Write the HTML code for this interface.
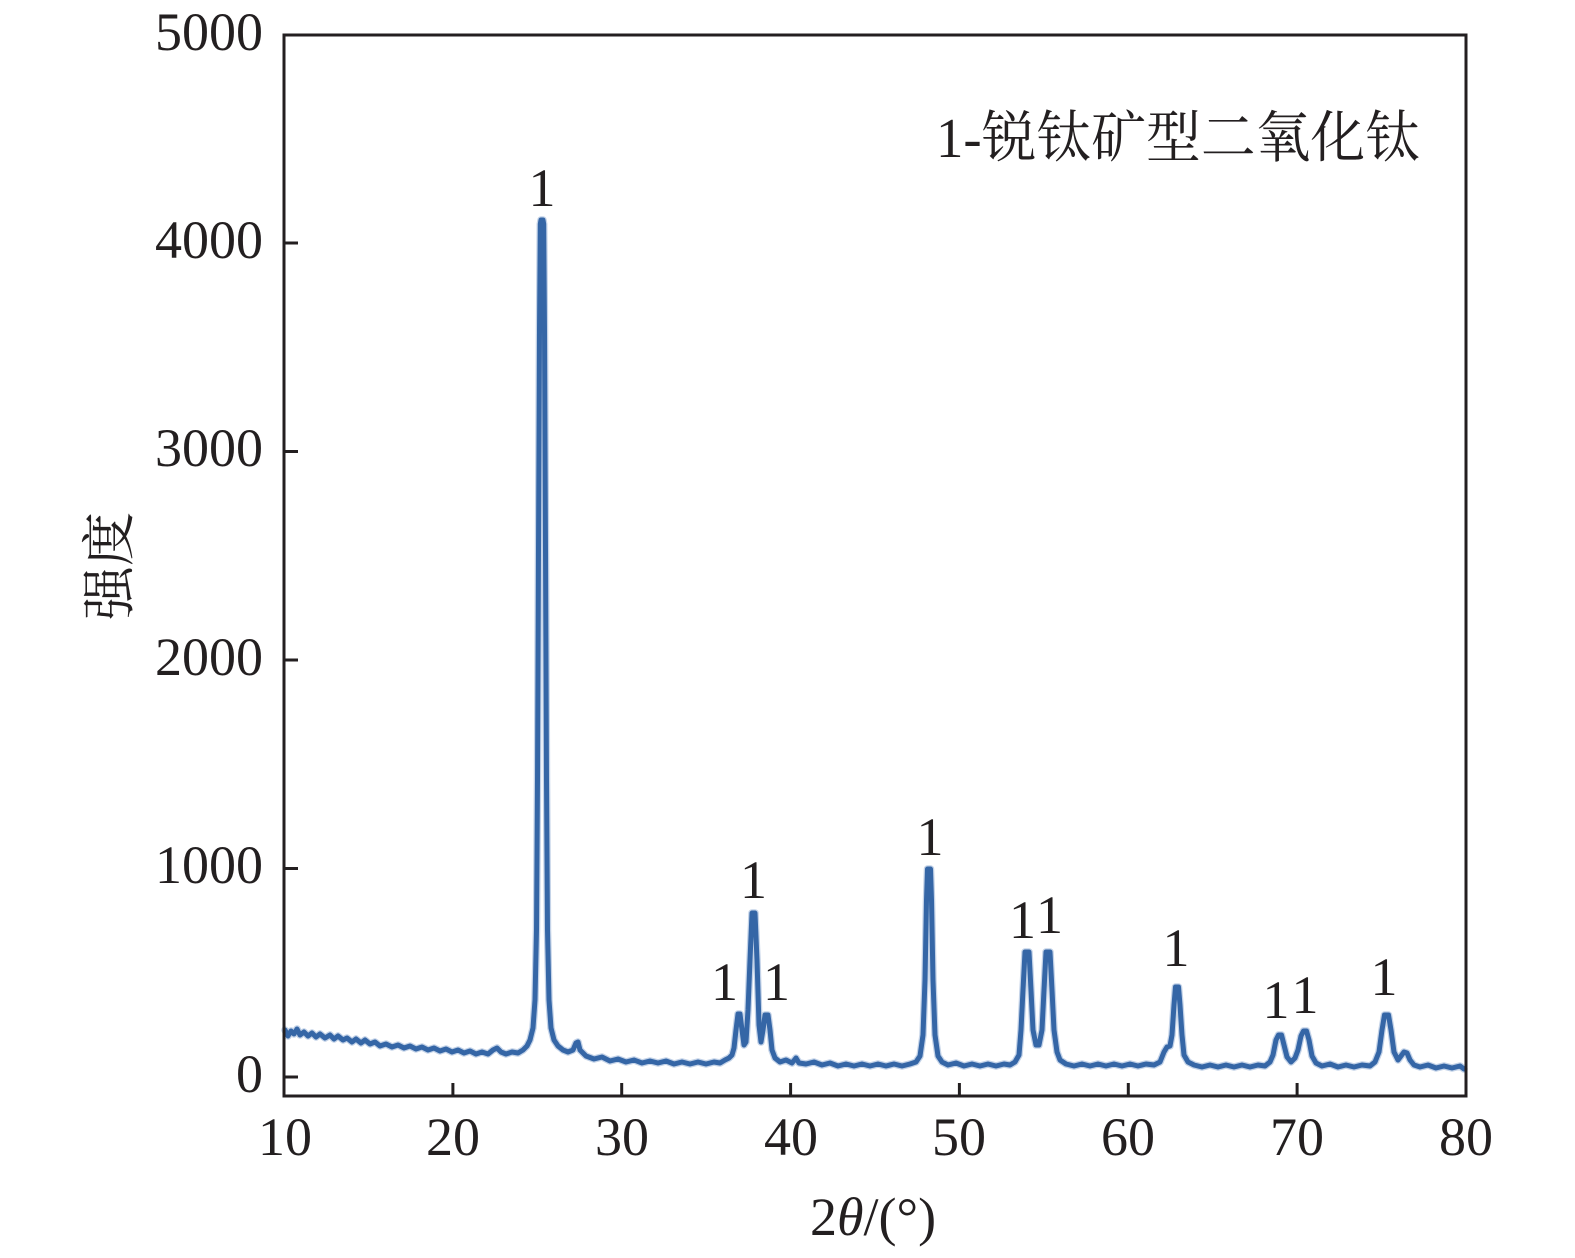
<!DOCTYPE html>
<html>
<head>
<meta charset="utf-8">
<style>
  html, body { margin: 0; padding: 0; background: #ffffff; }
  svg { display: block; }
  .t { font-family: "Liberation Serif", "Noto Serif CJK SC", serif; fill: #231f20; }
</style>
</head>
<body>
<svg width="1575" height="1258" viewBox="0 0 1575 1258" xmlns="http://www.w3.org/2000/svg">
  <rect x="0" y="0" width="1575" height="1258" fill="#ffffff"/>
  <defs>
    <path id="spec" d="M285,1030 L288,1036 L291,1031 L294,1034 L297,1029 L300,1035 L304,1032 L308,1036 L312,1033 L316,1037 L320,1034 L325,1038 L330,1035 L334,1039 L338,1036 L343,1040 L347,1038 L352,1042 L356,1039 L361,1043 L365,1040 L370,1044 L375,1042 L380,1046 L386,1044 L392,1047 L398,1045 L404,1048 L410,1046 L416,1049 L422,1047 L428,1050 L434,1048 L440,1051 L446,1049 L452,1052 L458,1050 L464,1053 L470,1051 L476,1054 L482,1052 L488,1054 L493,1050 L497,1048 L501,1052 L506,1054 L512,1052 L518,1053 L523,1050 L527,1046 L530,1040 L533,1028 L535,1000 L536.5,930 L537.5,780 L538.5,550 L539.5,330 L540.3,224 L541,220 L543,220 L543.7,224 L544.5,330 L545.5,550 L546.5,780 L547.5,930 L549,1000 L551,1028 L554,1040 L558,1046 L563,1050 L568,1052 L573,1050 L576,1043 L578,1042 L580,1050 L586,1056 L594,1059 L602,1057 L610,1061 L618,1059 L626,1062 L634,1060 L642,1063 L650,1061 L658,1063 L666,1061 L674,1064 L682,1062 L690,1064 L698,1062 L706,1064 L714,1062 L720,1063 L725,1060 L729,1058 L732,1055 L734,1048 L736,1030 L738,1014 L740,1014 L742,1030 L744,1045 L746,1042 L748,1010 L750,960 L752,913 L755,913 L757,960 L759,1025 L761,1042 L763,1030 L765,1015 L768,1015 L770,1030 L772,1050 L775,1058 L780,1062 L786,1060 L792,1063 L796,1058 L799,1063 L806,1064 L814,1062 L822,1065 L830,1063 L838,1066 L846,1064 L854,1066 L862,1064 L870,1066 L878,1064 L886,1066 L894,1064 L902,1066 L910,1064 L916,1062 L920,1056 L923,1035 L925,980 L926.5,900 L927.5,869 L930.5,869 L931.5,900 L933,980 L935,1035 L938,1056 L942,1062 L948,1065 L956,1063 L964,1066 L972,1064 L980,1066 L988,1064 L996,1066 L1004,1064 L1010,1065 L1015,1062 L1019,1055 L1021,1030 L1023,990 L1025,952 L1029,952 L1031,990 L1033,1030 L1036,1045 L1039,1045 L1042,1030 L1044,990 L1046,952 L1050,952 L1052,990 L1054,1030 L1057,1052 L1060,1060 L1066,1064 L1074,1066 L1082,1064 L1090,1066 L1098,1064 L1106,1066 L1114,1064 L1122,1066 L1130,1064 L1138,1066 L1146,1064 L1154,1065 L1160,1062 L1164,1052 L1167,1047 L1170,1046 L1172,1035 L1174,1005 L1175.5,987 L1178.5,987 L1180,1005 L1182,1035 L1184,1055 L1188,1062 L1194,1065 L1202,1067 L1210,1065 L1218,1067 L1226,1065 L1234,1067 L1242,1065 L1250,1067 L1258,1065 L1265,1066 L1270,1062 L1273,1055 L1276,1040 L1278.5,1035 L1281.5,1035 L1284,1045 L1287,1057 L1291,1062 L1295,1058 L1298,1050 L1301,1036 L1303.5,1031 L1306.5,1031 L1309,1040 L1312,1056 L1316,1063 L1322,1066 L1330,1064 L1338,1067 L1346,1065 L1354,1067 L1362,1065 L1370,1066 L1375,1062 L1379,1052 L1382,1030 L1384.5,1015 L1388.5,1015 L1391,1030 L1394,1052 L1398,1060 L1401,1056 L1404,1052 L1407,1053 L1410,1060 L1414,1065 L1420,1067 L1428,1065 L1436,1068 L1444,1066 L1452,1068 L1460,1066 L1464,1069"/>
  </defs>

  <!-- spectrum: soft halo + core -->
  <use href="#spec" fill="none" stroke="#9db6d8" stroke-width="7.5" stroke-linejoin="round" stroke-linecap="round" opacity="0.6"/>
  <use href="#spec" fill="none" stroke="#3566a6" stroke-width="5" stroke-linejoin="round" stroke-linecap="round"/>

  <!-- axes frame -->
  <rect x="284" y="35" width="1182" height="1061" fill="none" stroke="#231f20" stroke-width="3"/>

  <g stroke="#231f20" stroke-width="3">
    <line x1="284" y1="1077" x2="298" y2="1077"/>
    <line x1="284" y1="868.5" x2="298" y2="868.5"/>
    <line x1="284" y1="660" x2="298" y2="660"/>
    <line x1="284" y1="451.5" x2="298" y2="451.5"/>
    <line x1="284" y1="243" x2="298" y2="243"/>
    <line x1="452.9" y1="1096" x2="452.9" y2="1083"/>
    <line x1="621.7" y1="1096" x2="621.7" y2="1083"/>
    <line x1="790.6" y1="1096" x2="790.6" y2="1083"/>
    <line x1="959.4" y1="1096" x2="959.4" y2="1083"/>
    <line x1="1128.3" y1="1096" x2="1128.3" y2="1083"/>
    <line x1="1297.1" y1="1096" x2="1297.1" y2="1083"/>
  </g>

  <g class="t" font-size="54" text-anchor="end">
    <text x="263" y="1092">0</text>
    <text x="263" y="883">1000</text>
    <text x="263" y="675">2000</text>
    <text x="263" y="466">3000</text>
    <text x="263" y="258">4000</text>
    <text x="263" y="50">5000</text>
  </g>

  <g class="t" font-size="54" text-anchor="middle">
    <text x="285" y="1155">10</text>
    <text x="453" y="1155">20</text>
    <text x="622" y="1155">30</text>
    <text x="791" y="1155">40</text>
    <text x="959" y="1155">50</text>
    <text x="1128" y="1155">60</text>
    <text x="1297" y="1155">70</text>
    <text x="1466" y="1155">80</text>
  </g>

  <g class="t" font-size="54" text-anchor="middle">
    <text x="542" y="206">1</text>
    <text x="724.5" y="1000">1</text>
    <text x="753.5" y="898">1</text>
    <text x="776.5" y="1000">1</text>
    <text x="930" y="855">1</text>
    <text x="1022.5" y="938">1</text>
    <text x="1049.5" y="933">1</text>
    <text x="1176" y="966">1</text>
    <text x="1276" y="1018">1</text>
    <text x="1305" y="1013">1</text>
    <text x="1384" y="995">1</text>
  </g>

  <text class="t" x="936" y="157" font-size="56" textLength="484" lengthAdjust="spacingAndGlyphs">1-锐钛矿型二氧化钛</text>

  <text class="t" font-size="54" text-anchor="middle" transform="translate(128,566) rotate(-90)">强度</text>
  <text class="t" x="873" y="1235" font-size="54" text-anchor="middle">2<tspan font-style="italic">θ</tspan>/(°)</text>
</svg>
</body>
</html>
